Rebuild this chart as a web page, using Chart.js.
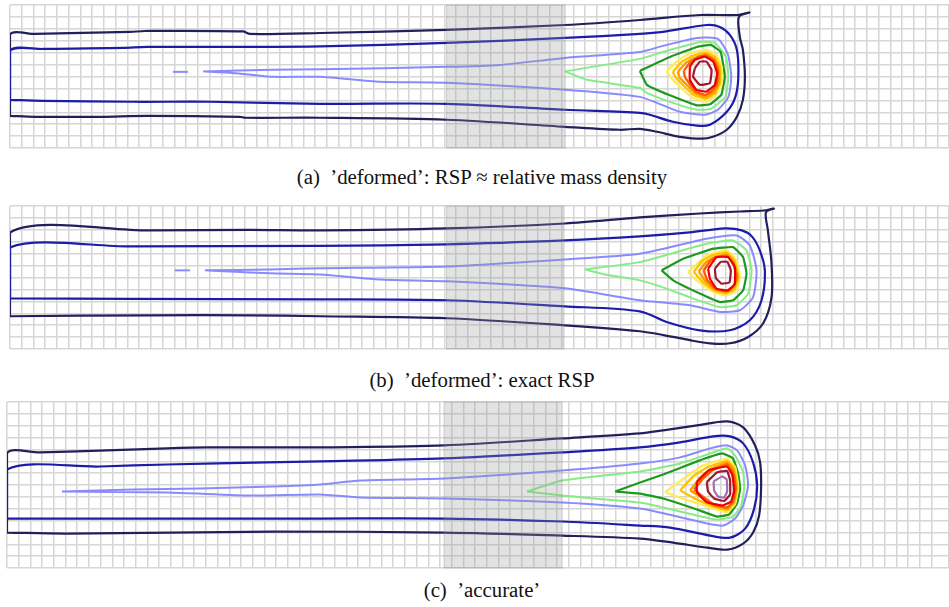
<!DOCTYPE html>
<html>
<head>
<meta charset="utf-8">
<script src="https://cdn.jsdelivr.net/npm/chart.js@4.4.1/dist/chart.umd.min.js"></script>
<style>
  html, body { margin: 0; padding: 0; background: #fff; overflow: hidden; width: 949px; height: 607px; }
  canvas { position: absolute; }
  .cap { position: absolute; left: 0; width: 964px; text-align: center; white-space: pre;
         font-family: "Liberation Serif", "DejaVu Serif", serif; font-size: 20.8px; line-height: 22px; color: #111; }
</style>
</head>
<body>
<canvas id="chart-a" width="943" height="147" style="left:8px;top:3px"></canvas>
<div class="cap" style="top:166px">(a)  ’deformed’: RSP ≈ relative mass density</div>
<canvas id="chart-b" width="943" height="147" style="left:8px;top:204px"></canvas>
<div class="cap" style="top:369px">(b)  ’deformed’: exact RSP</div>
<canvas id="chart-c" width="946" height="170" style="left:5px;top:400px"></canvas>
<div class="cap" style="top:579px">(c)  ’accurate’</div>
<script>
// contour lines, in grid cells (x along the beam, y downward)

// (a) 'deformed': RSP ~ relative mass density
const A_NAVY = [[0,9.3],[0,2.51],[2.13,2.43],[10.22,2.26],[11.5,2.18],[19.85,2.22],[20.44,2.43],[26.41,2.35],[37.22,2.09],[47.27,1.68],[53.66,1.26],[58.77,0.84],[62.01,0.84],[63.0,0.62],[62.1,1.0],[62.18,2.68],[62.44,3.77],[62.61,6.03],[62.44,7.96],[61.93,9.38],[61.07,10.47],[59.88,11.06],[58.94,11.22],[57.07,11.06],[55.11,10.64],[53.66,10.39],[51.96,10.47],[47.27,10.22],[37.22,9.63],[26.41,9.46],[20.02,9.46],[19.59,9.38],[11.67,9.3],[7.67,9.38],[2.13,9.38],[0,9.3]];
const A_BLUE = [[0,7.96],[0,3.85],[2.81,3.69],[9.63,3.6],[11.67,3.52],[18.99,3.52],[26.41,3.48],[37.22,3.18],[47.27,2.76],[53.66,2.43],[55.62,2.26],[59.37,1.68],[60.48,1.84],[61.33,2.51],[61.93,3.77],[62.05,6.03],[61.8,7.71],[61.07,8.96],[59.63,10.05],[58.52,10.13],[56.47,9.8],[54.51,9.21],[53.66,9.05],[47.27,8.79],[37.22,8.29],[26.41,8.29],[17.04,8.12],[10.48,8.12],[2.81,8.04],[0,7.96]];
const A_LIGHTBLUE = [[16.44,5.57],[22.4,5.44],[26.41,5.4],[37.22,5.19],[41.74,5.03],[47.27,4.44],[53.66,3.94],[55.62,3.43],[58.52,2.76],[60.31,2.85],[61.15,4.11],[61.45,6.03],[61.2,7.71],[60.31,8.79],[59.2,9.21],[57.07,8.96],[55.11,8.21],[53.66,7.71],[47.27,7.12],[37.22,6.53],[31.52,6.45],[26.41,6.03],[22.4,6.03],[18.99,5.7],[16.44,5.57]];
const A_DASH = [[13.88,5.61],[15.16,5.61]];
const A_LIGHTGREEN = [[47.27,5.57],[53.66,4.52],[55.62,3.94],[58.77,3.1],[60.05,3.18],[61.0,4.36],[61.2,6.03],[60.95,7.71],[59.71,8.71],[58.52,8.79],[56.47,8.21],[54.26,7.37],[53.66,6.95],[49.15,6.28],[47.27,5.57]];
const A_GREEN = [[53.66,5.53],[56.22,4.36],[58.52,3.52],[59.71,3.35],[60.55,3.94],[60.9,6.03],[60.6,7.54],[59.63,8.33],[58.52,8.42],[56.22,7.58],[54.26,6.7],[53.66,5.53]];
const A_YELLOW = [[55.94,5.59],[56.79,4.75],[57.92,4.05],[59.34,3.77],[60.19,4.19],[60.62,5.17],[60.62,6.56],[60.19,7.54],[59.34,8.1],[58.2,7.81],[57.07,6.84],[56.36,6.14],[55.94,5.59]];
const A_GOLD = [[56.47,5.61],[57.24,4.77],[58.18,4.27],[59.28,3.98],[60.05,4.36],[60.48,5.19],[60.48,6.53],[60.05,7.45],[59.28,7.87],[58.26,7.54],[57.33,6.7],[56.73,6.11],[56.47,5.61]];
const A_ORANGE = [[56.9,5.61],[57.58,4.86],[58.35,4.44],[59.28,4.15],[59.97,4.52],[60.39,5.36],[60.39,6.53],[59.97,7.29],[59.28,7.71],[58.35,7.37],[57.58,6.62],[57.07,6.11],[56.9,5.61]];
const A_DARKORANGE = [[57.41,5.53],[57.92,4.86],[58.69,4.36],[59.28,4.23],[59.97,4.61],[60.31,5.53],[60.22,6.62],[59.88,7.12],[59.28,7.54],[58.43,7.29],[57.84,6.53],[57.5,6.03],[57.41,5.53]];
const A_RED = [[57.92,5.17],[58.35,4.61],[59.2,4.33],[59.91,4.75],[60.25,5.72],[60.05,6.7],[59.34,7.26],[58.49,7.12],[57.92,6.28],[57.92,5.17]];
const A_DARKRED = [[58.35,5.3],[58.77,4.75],[59.34,4.75],[59.77,5.44],[59.63,6.56],[58.77,6.7],[58.2,6.01],[58.35,5.3]];
const A_BAND = [37.2, 47.3];

// (b) 'deformed': exact RSP
const B_NAVY = [[0,9.25],[0,2.22],[11.93,2.05],[20.44,2.01],[26.41,2.05],[37.22,1.88],[47.27,1.47],[53.66,0.96],[58.77,0.63],[62.18,0.46],[64.22,0.38],[65.08,0.21],[64.4,0.54],[64.57,2.05],[64.88,4.82],[64.88,7.66],[64.17,9.84],[62.86,11.01],[61.33,11.52],[59.63,11.52],[57.92,11.26],[55.79,10.85],[53.66,10.51],[47.27,10.01],[37.22,9.42],[26.41,9.25],[20.44,9.17],[11.93,9.17],[0,9.25]];
const B_BLUE = [[0,7.75],[0,3.48],[10.22,3.39],[26.41,3.35],[37.22,3.22],[47.27,2.89],[53.66,2.55],[57.92,2.22],[60.9,1.88],[62.35,2.05],[63.2,2.55],[63.88,3.73],[64.31,5.4],[64.03,7.91],[63.03,9.59],[61.33,10.43],[58.77,10.43],[55.94,9.73],[53.66,8.84],[47.27,8.42],[37.22,7.91],[26.41,7.83],[10.22,7.79],[0,7.75]];
const B_LIGHTBLUE = [[16.61,5.4],[22.15,5.32],[26.41,5.23],[37.22,5.07],[47.27,4.48],[53.66,4.0],[59.34,2.75],[61.9,2.47],[63.03,3.31],[63.6,5.4],[63.31,7.64],[62.18,8.75],[60.48,8.89],[57.92,8.33],[53.66,7.91],[47.27,6.91],[37.22,6.32],[31.52,6.16],[26.41,5.74],[22.15,5.65],[18.74,5.49],[16.61,5.4]];
const B_DASH = [[14.05,5.4],[15.33,5.4]];
const B_LIGHTGREEN = [[48.98,5.32],[53.66,4.71],[59.34,3.17],[61.61,2.89],[62.75,3.73],[63.18,5.4],[62.89,7.35],[61.9,8.33],[60.48,8.48],[58.2,7.77],[55.94,6.93],[53.66,6.24],[50.68,5.74],[48.98,5.32]];
const B_GREEN = [[55.51,5.4],[57.35,4.42],[59.91,3.58],[61.61,3.45],[62.46,4.29],[62.75,5.68],[62.46,7.08],[61.61,7.91],[60.48,8.06],[58.77,7.35],[56.5,6.24],[55.51,5.4]];
const B_YELLOW = [[57.78,5.54],[59.34,4.15],[61.05,3.73],[61.9,4.56],[62.18,5.96],[61.9,7.08],[61.05,7.5],[59.91,7.22],[58.49,6.24],[57.78,5.54]];
const B_GOLD = [[58.26,5.53],[58.94,4.65],[59.8,4.15],[61.07,3.9],[61.75,4.65],[62.05,5.99],[61.75,6.95],[61.07,7.33],[59.97,7.08],[58.94,6.32],[58.26,5.53]];
const B_ORANGE = [[58.69,5.49],[59.28,4.73],[59.97,4.31],[61.07,4.06],[61.67,4.73],[61.97,5.99],[61.67,6.83],[61.07,7.2],[60.05,6.99],[59.2,6.24],[58.69,5.49]];
const B_DARKORANGE = [[59.11,5.4],[59.63,4.65],[60.14,4.3],[61.07,4.19],[61.67,4.9],[61.88,5.99],[61.67,6.7],[61.07,7.12],[60.14,6.99],[59.37,6.16],[59.11,5.4]];
const B_RED = [[59.48,5.26],[60.19,4.29],[61.18,4.29],[61.75,5.13],[61.75,6.52],[61.18,7.08],[60.19,6.93],[59.63,6.1],[59.48,5.26]];
const B_DARKRED = [[60.05,5.26],[60.55,4.69],[61.12,4.69],[61.41,5.4],[61.3,6.4],[60.62,6.52],[60.14,6.05],[60.05,5.26]];
const B_BAND = [37.2, 47.2];

// (c) 'accurate'
const C_NAVY = [[0,11.01],[0,4.34],[2.82,4.25],[5.98,4.17],[13.68,3.91],[17.09,3.83],[24.44,3.83],[26.75,3.83],[37.35,3.66],[47.44,3.07],[54.1,2.65],[56.07,2.39],[58.97,1.97],[61.54,1.63],[62.91,2.14],[63.93,3.66],[64.36,5.1],[64.44,7.3],[64.27,9.58],[63.76,11.01],[62.91,11.94],[61.54,12.45],[59.83,12.28],[56.92,11.86],[54.1,11.52],[47.44,11.27],[37.35,11.01],[22.74,10.93],[5.13,11.1],[0,11.01]];
const C_BLUE = [[0,9.83],[0,5.69],[7.95,5.44],[13.68,5.27],[22.22,5.1],[26.75,5.01],[37.35,4.76],[47.44,4.25],[54.1,3.83],[57.52,3.41],[60.34,2.9],[61.79,2.9],[62.91,3.49],[63.76,5.1],[64.1,7.04],[63.85,8.99],[63.08,10.68],[61.79,11.44],[60.09,11.27],[56.67,10.59],[54.1,10.42],[47.44,10.08],[37.35,9.83],[26.75,9.83],[0,9.83]];
const C_LIGHTBLUE = [[4.7,7.55],[10.77,7.38],[16.5,7.3],[22.74,7.13],[26.75,6.96],[30.17,6.62],[37.35,6.45],[47.44,5.77],[54.1,5.18],[57.52,4.67],[60.09,3.91],[61.54,3.66],[62.39,4.08],[63.08,5.35],[63.33,7.04],[62.91,8.73],[62.22,9.83],[61.2,10.42],[59.83,10.25],[56.92,9.58],[54.1,8.99],[47.44,8.48],[37.35,8.14],[30.17,8.06],[26.75,7.8],[21.03,7.89],[13.68,7.63],[4.7,7.55]];
const C_LIGHTGREEN = [[44.44,7.55],[47.44,6.62],[54.1,5.86],[57.52,5.18],[60.09,4.34],[61.54,3.91],[62.22,4.51],[62.91,5.94],[62.99,7.3],[62.74,8.73],[62.05,9.66],[60.68,9.92],[58.97,9.58],[56.07,8.9],[54.1,8.48],[47.44,7.89],[44.44,7.55]];
const C_GREEN = [[51.97,7.55],[54.1,6.79],[56.07,6.11],[58.97,5.01],[61.11,4.34],[62.05,4.76],[62.48,6.03],[62.65,7.3],[62.39,8.56],[61.71,9.49],[60.68,9.66],[58.97,9.07],[56.07,8.14],[54.1,7.72],[51.97,7.55]];
const C_YELLOW = [[56.24,7.61],[57.8,6.48],[59.51,5.35],[61.51,4.78],[62.22,5.49],[62.48,7.19],[62.22,8.59],[61.51,9.3],[60.09,8.88],[57.8,8.17],[56.24,7.61]];
const C_GOLD = [[57.52,7.46],[58.63,6.28],[59.83,5.52],[61.54,4.97],[62.14,5.6],[62.39,7.21],[62.14,8.48],[61.54,9.11],[60.17,8.73],[58.63,8.06],[57.52,7.46]];
const C_ORANGE = [[58.38,7.46],[59.23,6.37],[60.09,5.69],[61.54,5.14],[62.09,5.77],[62.31,7.3],[62.09,8.44],[61.54,8.99],[60.26,8.65],[59.23,7.97],[58.38,7.46]];
const C_DARKORANGE = [[58.72,7.38],[59.49,6.45],[60.26,5.77],[61.54,5.27],[62.05,5.94],[62.26,7.3],[62.05,8.39],[61.54,8.9],[60.34,8.61],[59.4,7.93],[58.72,7.38]];
const C_RED = [[58.95,6.76],[59.94,5.77],[61.51,5.44],[61.97,6.11],[62.14,7.46],[61.88,8.39],[61.11,8.73],[59.8,8.45],[58.97,7.61],[58.95,6.76]];
const C_DARKRED = [[59.8,6.76],[60.66,5.94],[61.54,5.82],[61.79,6.62],[61.79,7.8],[61.28,8.35],[60.43,8.14],[59.91,7.55],[59.8,6.76]];
const C_PURPLE = [[60.38,6.7],[61.11,6.28],[61.5,6.53],[61.54,7.55],[61.28,8.06],[60.77,7.97],[60.43,7.46],[60.38,6.7]];
const C_BAND = [37.35, 47.44];

// level: colour, width, tension
const STYLE = {
  navy:       ['#20205c', 2.2, 0.3],
  blue:       ['#1c1ca8', 2.2, 0.3],
  lightblue:  ['#8a8aff', 2, 0.2],
  lightgreen: ['#86ec86', 2, 0.15],
  green:      ['#1c9a1c', 2.2, 0.1],
  yellow:     ['#ffec5c', 2.4, 0.1],
  gold:       ['#ffc400', 2.4, 0.1],
  orange:     ['#ff9a00', 2.4, 0.1],
  darkorange: ['#ff5c00', 2.4, 0.1],
  red:        ['#ee0000', 2.2, 0.1],
  darkred:    ['#a0182a', 2.2, 0.1],
  purple:     ['#a070b0', 2.2, 0.1]
};

const bandPlugin = {
  id: 'band',
  afterDatasetsDraw(chart, args, opts) {
    const { ctx, chartArea, scales } = chart;
    const x0 = scales.x.getPixelForValue(opts.range[0]);
    const x1 = scales.x.getPixelForValue(opts.range[1]);
    ctx.save();
    ctx.fillStyle = 'rgba(150,150,150,0.28)';
    ctx.fillRect(x0, chartArea.top, x1 - x0, chartArea.bottom - chartArea.top);
    ctx.strokeStyle = 'rgba(120,120,120,0.3)';
    ctx.lineWidth = 1;
    ctx.strokeRect(x0, chartArea.top, x1 - x0, chartArea.bottom - chartArea.top);
    ctx.restore();
  }
};

function line(points, level) {
  const s = STYLE[level];
  return {
    data: points.map(p => ({ x: p[0], y: p[1] })),
    showLine: true,
    borderColor: s[0],
    borderWidth: s[1],
    tension: s[2],
    pointRadius: 0,
    fill: false
  };
}

function render(canvasId, lines, band, xMax, yMax) {
  const ctx = document.getElementById(canvasId);
  const grid = { color: '#d6d6d6', lineWidth: 1.5, drawTicks: false };
  new Chart(ctx, {
    type: 'scatter',
    data: { datasets: lines.map(l => line(l[0], l[1])) },
    options: {
      responsive: false,
      animation: false,
      events: [],
      layout: { padding: 2 },
      plugins: { legend: { display: false }, tooltip: { enabled: false }, band: { range: band } },
      scales: {
        x: { type: 'linear', min: 0, max: xMax, grid, border: { display: false },
             ticks: { display: false, stepSize: 1 } },
        y: { type: 'linear', min: 0, max: yMax, reverse: true, grid, border: { display: false },
             ticks: { display: false, stepSize: 1 } }
      }
    },
    plugins: [bandPlugin]
  });
}

render('chart-a', [
  [A_DARKRED, 'darkred'], [A_RED, 'red'], [A_DARKORANGE, 'darkorange'], [A_ORANGE, 'orange'],
  [A_GOLD, 'gold'], [A_YELLOW, 'yellow'], [A_GREEN, 'green'], [A_LIGHTGREEN, 'lightgreen'],
  [A_LIGHTBLUE, 'lightblue'], [A_DASH, 'lightblue'], [A_BLUE, 'blue'], [A_NAVY, 'navy']
], A_BAND, 80, 12);

render('chart-b', [
  [B_DARKRED, 'darkred'], [B_RED, 'red'], [B_DARKORANGE, 'darkorange'], [B_ORANGE, 'orange'],
  [B_GOLD, 'gold'], [B_YELLOW, 'yellow'], [B_GREEN, 'green'], [B_LIGHTGREEN, 'lightgreen'],
  [B_LIGHTBLUE, 'lightblue'], [B_DASH, 'lightblue'], [B_BLUE, 'blue'], [B_NAVY, 'navy']
], B_BAND, 80, 12);

render('chart-c', [
  [C_PURPLE, 'purple'], [C_DARKRED, 'darkred'], [C_RED, 'red'], [C_DARKORANGE, 'darkorange'],
  [C_ORANGE, 'orange'], [C_GOLD, 'gold'], [C_YELLOW, 'yellow'], [C_GREEN, 'green'],
  [C_LIGHTGREEN, 'lightgreen'], [C_LIGHTBLUE, 'lightblue'], [C_BLUE, 'blue'], [C_NAVY, 'navy']
], C_BAND, 80.5, 14);
</script>
</body>
</html>
